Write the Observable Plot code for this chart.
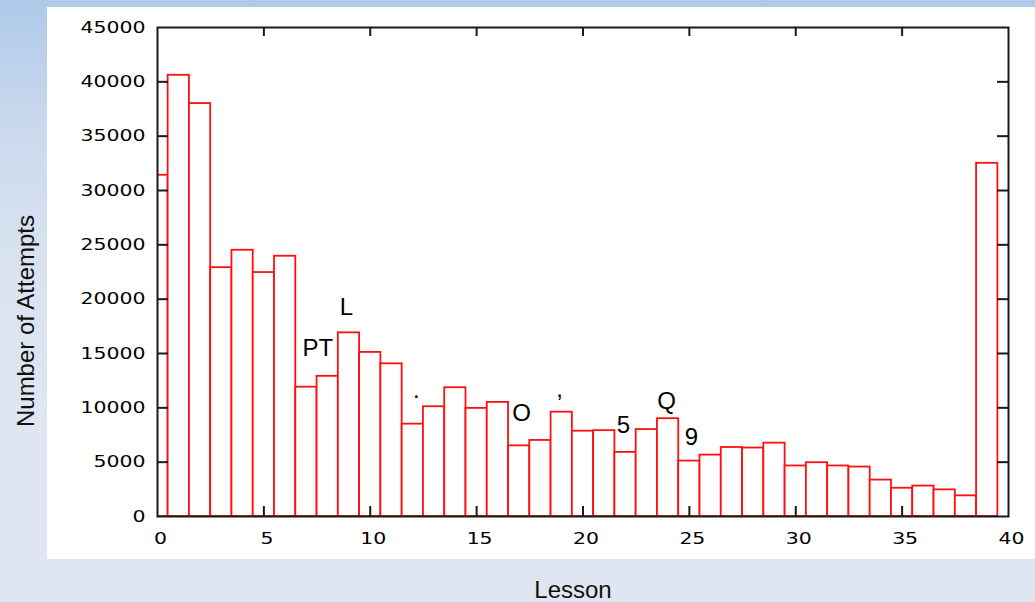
<!DOCTYPE html>
<html>
<head>
<meta charset="utf-8">
<script src="https://cdn.jsdelivr.net/npm/d3@7"></script>
<script src="https://cdn.jsdelivr.net/npm/@observablehq/plot@0.6"></script>
<style>
  html, body { margin: 0; padding: 0; }
  body {
    width: 1035px; height: 602px; position: relative; overflow: hidden;
    background: linear-gradient(to bottom, #afc9ea 0px, #c9d8ed 120px, #d9e3f0 260px, #dfe6f1 420px, #dfe6f1 602px);
  }
  #panel { position: absolute; left: 47px; top: 7px; width: 988px; height: 552px; background: #ffffff; }
  #chart { position: absolute; left: 0; top: 0; }
</style>
</head>
<body>
<div id="panel"></div>
<div id="chart"></div>
<script>
const lessons = [0,1,2,3,4,5,6,7,8,9,10,11,12,13,14,15,16,17,18,19,20,21,22,23,24,25,26,27,28,29,30,31,32,33,34,35,36,37,38,39];
const attempts = [31400,40600,38000,22900,24500,22450,23950,11900,12900,16900,
                  15100,14050,8500,10100,11850,9950,10500,6500,7000,9600,
                  7850,7900,5900,8000,9000,5100,5650,6350,6300,6750,
                  4650,4950,4650,4550,3350,2600,2800,2450,1900,32500];
const xTicks = [0,5,10,15,20,25,30,35,40];
const yTicks = [0,5000,10000,15000,20000,25000,30000,35000,40000,45000];
const noteText = ["PT","L",".","O",",","5","Q","9"];
const noteLesson = [7.54, 8.88, 12.17, 17.11, 18.9, 21.9, 23.93, 25.1];
const noteCount = [14800, 18500, 10900, 8800, 11000, 7700, 9900, 6600];

const bars = lessons.map((l, i) => ({lesson: l, count: attempts[i]}));
const notes = noteText.map((t, i) => ({text: t, lesson: noteLesson[i], count: noteCount[i]}));
const innerTicksX = xTicks.filter(t => t > 0 && t < 40);
const innerTicksY = yTicks.filter(t => t > 0 && t < 45000);

const axisColor = "#1a1a1a";
const chart = Plot.plot({
  width: 1035,
  height: 602,
  marginLeft: 157,
  marginRight: 27,
  marginTop: 27,
  marginBottom: 86,
  style: {background: "transparent", overflow: "visible"},
  x: {type: "linear", domain: [0, 40]},
  y: {type: "linear", domain: [0, 45000]},
  marks: [
    Plot.rect(bars, {
      x1: d => d.lesson - 0.5, x2: d => d.lesson + 0.5,
      y1: () => 0, y2: "count",
      fill: "white", stroke: "#ff1010", strokeWidth: 1.8, clip: true
    }),
    Plot.frame({stroke: axisColor, strokeWidth: 2}),
    Plot.tickY(innerTicksY, {y: d => d, stroke: axisColor, strokeWidth: 2, insetRight: 840}),
    Plot.tickY(innerTicksY, {y: d => d, stroke: axisColor, strokeWidth: 2, insetLeft: 840}),
    Plot.tickX(innerTicksX, {x: d => d, stroke: axisColor, strokeWidth: 2, insetBottom: 480}),
    Plot.tickX(innerTicksX, {x: d => d, stroke: axisColor, strokeWidth: 2, insetTop: 479}),
    Plot.axisY({ticks: yTicks, tickSize: 0, tickPadding: 12, label: null, tickFormat: d => String(d),
                fontSize: 16.5, fontFamily: "DejaVu Sans", fill: "#000"}),
    Plot.axisX({ticks: xTicks, tickSize: 0, tickPadding: 16, label: null, tickFormat: d => String(d),
                fontSize: 16.5, fontFamily: "DejaVu Sans", fill: "#000", dx: 3}),
    Plot.text(notes, {x: "lesson", y: "count", text: "text", lineAnchor: "bottom",
                      fontSize: 24, fontFamily: "Liberation Sans", fill: "#000"}),
    Plot.text(["Number of Attempts"], {frameAnchor: "left", rotate: -90, dx: -124, dy: 49,
                      lineAnchor: "bottom", textAnchor: "middle", fontSize: 24,
                      fontFamily: "Liberation Sans", fill: "#111"}),
    Plot.text(["Lesson"], {frameAnchor: "bottom", dx: -10, dy: 81, lineAnchor: "bottom",
                      textAnchor: "middle", fontSize: 24, fontFamily: "Liberation Sans", fill: "#111"})
  ]
});
document.getElementById("chart").appendChild(chart);

// widen the tick label glyphs like the reference
chart.querySelectorAll('g[aria-label="y-axis tick label"] text, g[aria-label="x-axis tick label"] text')
  .forEach(t => {
    const n = t.textContent.length;
    t.setAttribute("textLength", String(n * 13));
    t.setAttribute("lengthAdjust", "spacingAndGlyphs");
  });
</script>
</body>
</html>
